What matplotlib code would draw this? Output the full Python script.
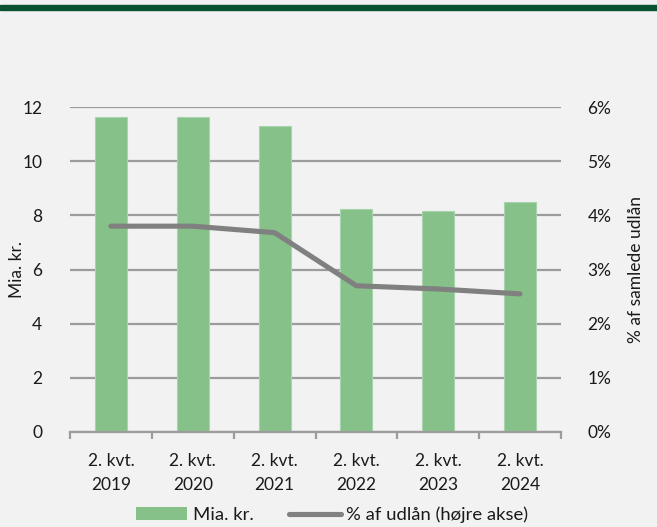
import matplotlib.pyplot as plt
import numpy as np
from matplotlib.lines import Line2D
from matplotlib.patches import Patch

plt.rcParams['font.family'] = ['Lato', 'DejaVu Sans']

# data
kvartaler = ["2. kvt.\n2019", "2. kvt.\n2020", "2. kvt.\n2021",
             "2. kvt.\n2022", "2. kvt.\n2023", "2. kvt.\n2024"]
mia_kr = [11.64, 11.64, 11.30, 8.23, 8.16, 8.48]
pct_udlaan = [3.80, 3.80, 3.68, 2.70, 2.64, 2.55]

bg = '#F2F2F2'
bar_col = '#86C18A'
line_col = '#808080'
grid_col = '#9C9C9C'
txt = '#1A1A1A'

fig = plt.figure(figsize=(6.57, 5.27), dpi=100, facecolor=bg)
ax = fig.add_axes([70/657, 95/527, 491/657, 325/527])
ax.set_facecolor(bg)

# dark green band at top
fig.patches.append(plt.Rectangle((0, 1 - 10/527), 1, 5/527, transform=fig.transFigure,
                                 color='#0B5233', zorder=5))

x = np.arange(len(kvartaler))
ax.bar(x, mia_kr, width=0.39, color=bar_col, edgecolor='#A8D4AB', linewidth=0.8, zorder=2)
ax.set_xlim(-0.5, len(kvartaler) - 0.5)
ax.set_ylim(0, 12)
ax.set_yticks(np.arange(0, 13, 2))
ax.yaxis.grid(True, color=grid_col, linewidth=1.6, zorder=0)
ax.set_axisbelow(True)
for s in ['top', 'right', 'left']:
    ax.spines[s].set_visible(False)
ax.spines['bottom'].set_color(grid_col)
ax.spines['bottom'].set_linewidth(1.6)
ax.tick_params(axis='y', length=0, pad=20, labelsize=12.5, labelcolor=txt)
ax.set_xticks(x)
ax.set_xticklabels(kvartaler, linespacing=1.6)
ax.set_xticks(np.arange(-0.5, len(kvartaler)), minor=True)
ax.tick_params(axis='x', which='major', length=0, pad=15, labelsize=12.5, labelcolor=txt)
ax.tick_params(axis='x', which='minor', length=5, width=1.6, color=grid_col)
ax.set_ylabel("Mia. kr.", fontsize=12.5, color=txt)
ax.yaxis.set_label_coords(-0.092, 0.5)

ax2 = ax.twinx()
ax2.plot(x, pct_udlaan, color=line_col, linewidth=3.7, solid_capstyle='round', zorder=3)
ax2.set_ylim(0, 6)
ax2.set_yticks(np.arange(0, 7, 1))
ax2.set_yticklabels([f"{v}%" for v in range(7)])
for s in ['top', 'right', 'left', 'bottom']:
    ax2.spines[s].set_visible(False)
ax2.tick_params(axis='y', length=0, pad=19, labelsize=12.5, labelcolor=txt)
ax2.set_ylabel("% af samlede udlån", fontsize=12.5, color=txt)
ax2.yaxis.set_label_coords(1.136, 0.5)

handles = [Patch(facecolor=bar_col, edgecolor='none'),
           Line2D([0], [0], color=line_col, linewidth=3.7, solid_capstyle='round')]
fig.legend(handles, ["Mia. kr.", "% af udlån (højre akse)"], loc='center',
           bbox_to_anchor=(332/657, 1 - 515/527), ncol=2, frameon=False,
           fontsize=13.3, handlelength=2.8, handleheight=0.7, handletextpad=0.3,
           columnspacing=1.9, labelcolor=txt)

fig.savefig("out.png", dpi=100, facecolor=bg)
